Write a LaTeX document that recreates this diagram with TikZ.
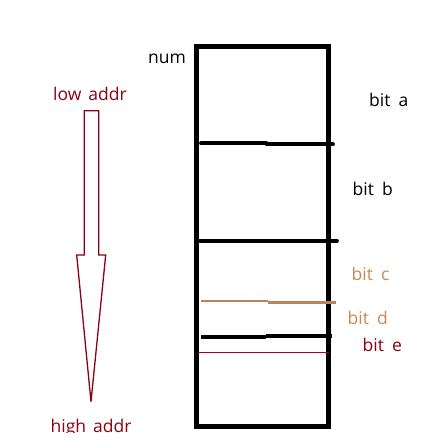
\documentclass[tikz,border=0pt]{standalone}
\usepackage{fontspec}
\setmainfont{Open Sans}
\definecolor{darkred}{RGB}{140,0,20}
\definecolor{linered}{RGB}{165,0,30}
\definecolor{tanline}{RGB}{190,130,90}
\definecolor{tantext}{RGB}{200,138,80}
\begin{document}
\begin{tikzpicture}[x=1pt,y=-1pt,
  lbl/.style={anchor=base west,inner sep=0pt,font=\fontsize{17.5}{19}\selectfont},
  box/.style={draw=black,line width=4.7pt,outer sep=0pt},
  sep/.style={draw=black,line width=3.8pt,line cap=round},
  sepc/.style={draw=tanline,line width=2.8pt},
  arr/.style={draw=darkred,line width=1.3pt}]
\useasboundingbox (0,0) rectangle (444,448);
% memory block
\node[box,minimum width=131.8pt,minimum height=379.8pt,inner sep=0pt,anchor=north west] (num) at (196.5,46.5) {};
% separators
\coordinate (a1) at (201,143.3); \coordinate (a2) at (266.5,143.3);
\coordinate (a3) at (266.5,144.3); \coordinate (a4) at (333,144.3);
\draw[sep] (a1) -- (a2); \draw[sep] (a3) -- (a4);
\coordinate (b1) at (200,241); \coordinate (b2) at (337,241);
\draw[sep] (b1) -- (b2);
\coordinate (c1) at (201,301); \coordinate (c2) at (268,301);
\coordinate (c3) at (268,302.3); \coordinate (c4) at (335.7,302.3);
\draw[sepc] (c1) -- (c2); \draw[sepc] (c3) -- (c4);
\coordinate (d1) at (201,337.3); \coordinate (d2) at (266,337.3);
\coordinate (d3) at (266,336); \coordinate (d4) at (331.5,336);
\draw[sep,line cap=butt] (d1) -- (d2); \draw[sep,line cap=butt] (d3) -- (d4);
\coordinate (e1) at (198,352.3); \coordinate (e2) at (329,352.3);
\draw[draw=linered,line width=1pt] (e1) -- (e2);
% labels
\node[lbl] (numlbl) at (148,63.3) {num};
\node[lbl] (bita) at (369,106) {bit\hspace{8pt}a};
\node[lbl] (bitb) at (352.5,195.7) {bit\hspace{8pt}b};
\node[lbl,text=tantext] (bitc) at (351.5,280) {bit\hspace{8pt}c};
\node[lbl,text=tantext] (bitd) at (347.5,324.3) {bit\hspace{8pt}d};
\node[lbl,text=darkred] (bite) at (362.5,351.7) {bit\hspace{8pt}e};
% arrow
\node[lbl,anchor=base,text=darkred] (low) at (90,100) {low\hspace{7pt}addr};
\draw[arr] (84.3,110.7) -- (98.7,110.7) -- (98.7,255) -- (105.7,255) -- (91,401.7) -- (76.7,255) -- (84.3,255) -- cycle;
\begin{scope}
\clip (0,0) rectangle (444,432);
\node[lbl,anchor=base,text=darkred] (high) at (91,432) {high\hspace{7pt}addr};
\end{scope}
\end{tikzpicture}
\end{document}
